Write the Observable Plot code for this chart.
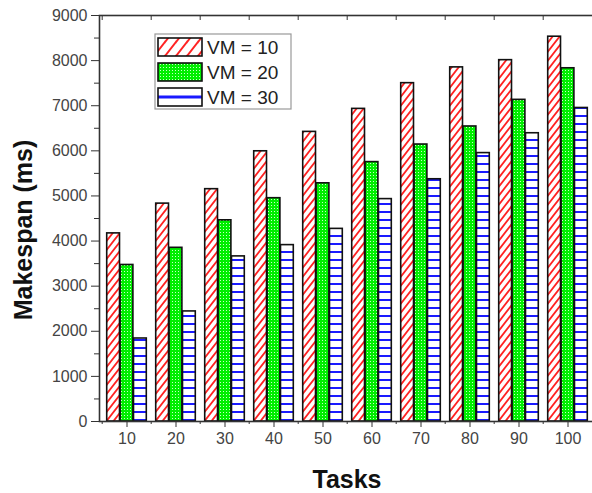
<!DOCTYPE html>
<html><head><meta charset="utf-8">
<script src="https://cdn.jsdelivr.net/npm/d3@7"></script>
<script src="https://cdn.jsdelivr.net/npm/@observablehq/plot@0.6"></script>
<style>html,body{margin:0;padding:0;overflow:hidden;background:#fff;width:592px;height:493px}</style>
</head><body><div id="chart"></div>
<script>
const tasks = [10, 20, 30, 40, 50, 60, 70, 80, 90, 100];
const vm10 = [4170, 4830, 5150, 5990, 6420, 6930, 7500, 7850, 8010, 8530];
const vm20 = [3470, 3850, 4460, 4950, 5280, 5750, 6140, 6540, 7130, 7830];
const vm30 = [1840, 2440, 3660, 3910, 4270, 4930, 5370, 5950, 6390, 6950];
const seriesNames = ["VM = 10", "VM = 20", "VM = 30"];
const seriesValues = [vm10, vm20, vm30];
const yTicks = d3.range(0, 9001, 1000);
const yMinor = d3.range(500, 9000, 1000);

const W = 595, H = 493;
const mL = 99, mR = 0, mT = 15, mB = 72;
const step = (W - mL - mR) / tasks.length;
const barW = step * 0.27;
const outer = (step - 3 * barW) / 2;
const fills = ["url(#pRed)", "url(#pGreen)", "url(#pBlue)"];

const barMarks = seriesValues.map((vals, i) =>
  Plot.barY(tasks.map((t, j) => ({task: t, value: vals[j]})), {
    x: "task", y: "value", fill: fills[i], stroke: "#111", strokeWidth: 1.6,
    insetLeft: outer + i * barW, insetRight: outer + (2 - i) * barW
  })
);

const chart = Plot.plot({
  width: W, height: H,
  marginLeft: mL, marginRight: mR, marginTop: mT, marginBottom: mB,
  style: {fontFamily: "'Liberation Sans', Arial, sans-serif", color: "#333", maxWidth: "none", overflow: "hidden", background: "#fff"},
  x: {type: "band", domain: tasks, padding: 0, label: null},
  y: {domain: [0, 9000], label: null},
  marks: [
    ...barMarks,
    Plot.frame({stroke: "#333", strokeWidth: 1.6}),
    Plot.axisY(yTicks, {anchor: "left", tickSize: 8, tickPadding: 4, fontSize: 16, label: null, fill: "#444", tickFormat: d3.format("d")}),
    Plot.axisY(yMinor, {anchor: "left", tickSize: 5, text: null, label: null}),
    Plot.axisX(tasks, {anchor: "bottom", tickSize: 6, tickPadding: 5, fontSize: 16, label: null, fill: "#444", tickFormat: d3.format("d")}),
    Plot.axisX(tasks, {anchor: "bottom", tickSize: 3, text: null, label: null, dx: -step / 2}),
    Plot.axisX(tasks, {anchor: "top", tickSize: -4, text: null, label: null, dx: -step / 2})
  ]
});

const svg = d3.select(chart);
const defs = svg.insert("defs", ":first-child");
const pr = defs.append("pattern").attr("id", "pRed").attr("patternUnits", "userSpaceOnUse").attr("width", 7).attr("height", 9);
pr.append("rect").attr("width", 7).attr("height", 9).attr("fill", "#fff");
pr.append("path").attr("d", "M0,9L7,0M-1,1.3L1,-1.3M6,10.3L8,7.7").attr("stroke", "#f22").attr("stroke-width", 1.8);
const pg = defs.append("pattern").attr("id", "pGreen").attr("patternUnits", "userSpaceOnUse").attr("width", 3).attr("height", 3);
pg.append("rect").attr("width", 3).attr("height", 3).attr("fill", "#0e0");
pg.append("rect").attr("x", 1).attr("y", 1).attr("width", 1).attr("height", 1).attr("fill", "#c8ffc8");
const pb = defs.append("pattern").attr("id", "pBlue").attr("patternUnits", "userSpaceOnUse").attr("width", 8).attr("height", 8);
pb.append("rect").attr("width", 8).attr("height", 8).attr("fill", "#fff");
pb.append("rect").attr("y", 3).attr("width", 8).attr("height", 2).attr("fill", "#1a1aff");
const pbl = defs.append("pattern").attr("id", "pBlueLeg").attr("patternUnits", "objectBoundingBox").attr("width", 1).attr("height", 1);
pbl.append("rect").attr("width", 44).attr("height", 18).attr("fill", "#fff");
pbl.append("rect").attr("y", 7.5).attr("width", 44).attr("height", 3).attr("fill", "#1a1aff");
const prl = defs.append("pattern").attr("id", "pRedLeg").attr("patternUnits", "userSpaceOnUse").attr("width", 11).attr("height", 14);
prl.append("rect").attr("width", 11).attr("height", 14).attr("fill", "#fff");
prl.append("path").attr("d", "M0,14L11,0M-1,1.3L1,-1.3M10,15.3L12,12.7").attr("stroke", "#f22").attr("stroke-width", 2);

// legend
const leg = svg.append("g").attr("text-anchor", "start");
leg.append("rect").attr("x", 155).attr("y", 34).attr("width", 136).attr("height", 75).attr("fill", "#fff").attr("stroke", "#999").attr("stroke-width", 1.2);
const legFills = ["url(#pRedLeg)", "url(#pGreen)", "url(#pBlueLeg)"];
seriesNames.forEach((name, i) => {
  leg.append("rect").attr("x", 158).attr("y", 38 + 25 * i).attr("width", 44).attr("height", 18)
    .attr("fill", legFills[i]).attr("stroke", "#111").attr("stroke-width", 1.6);
  leg.append("text").attr("x", 207).attr("y", 47 + 25 * i).attr("dy", "0.35em").attr("text-anchor", "start")
    .attr("font-size", 19).attr("fill", "#222").text(name);
});

// axis titles
svg.append("text").attr("x", 347).attr("y", 488).attr("text-anchor", "middle")
  .attr("font-size", 25).attr("font-weight", "bold").attr("fill", "#111").text("Tasks");
svg.append("text").attr("transform", "translate(32,230) rotate(-90)").attr("text-anchor", "middle")
  .attr("font-size", 25).attr("font-weight", "bold").attr("fill", "#111").text("Makespan (ms)");

document.getElementById("chart").appendChild(chart);
</script>
</body></html>
